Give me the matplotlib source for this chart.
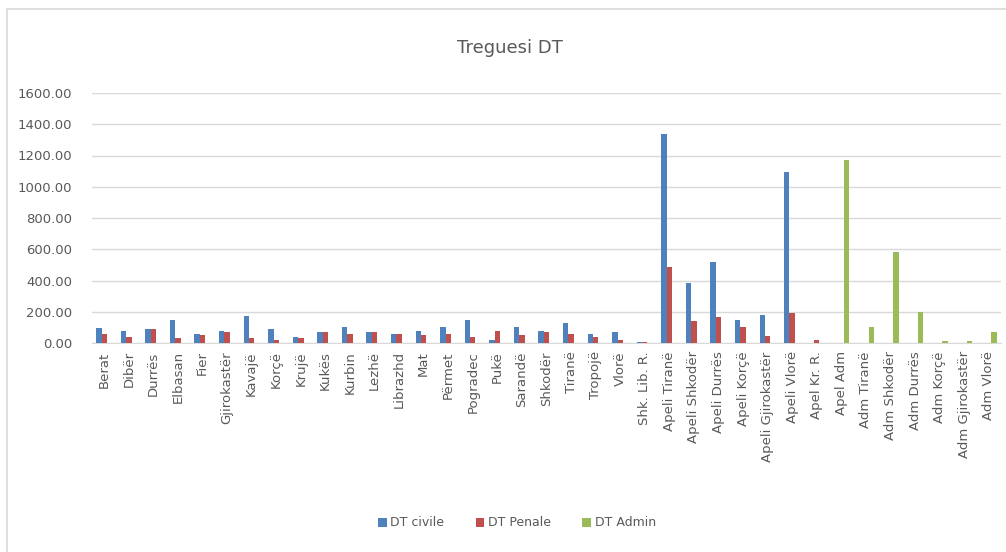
import numpy as np
import matplotlib
matplotlib.use("Agg")
import matplotlib.pyplot as plt
from matplotlib.patches import Rectangle

# categories and values
categories = ["Berat", "Dibër", "Durrës", "Elbasan", "Fier", "Gjirokastër", "Kavajë",
              "Korçë", "Krujë", "Kukës", "Kurbin", "Lezhë", "Librazhd", "Mat", "Përmet",
              "Pogradec", "Pukë", "Sarandë", "Shkodër", "Tiranë", "Tropojë", "Vlorë",
              "Shk. Lib. R.", "Apeli Tiranë", "Apeli Shkodër", "Apeli Durrës", "Apeli Korçë",
              "Apeli Gjirokastër", "Apeli Vlorë", "Apel Kr. R.", "Apel Adm", "Adm Tiranë",
              "Adm Shkodër", "Adm Durrës", "Adm Korçë", "Adm Gjirokastër", "Adm Vlorë"]

dt_civile = [95, 80, 90, 150, 55, 80, 170, 90, 40, 70, 100, 70, 60, 80, 100,
             150, 20, 100, 80, 130, 60, 70, 5, 1340, 385, 520, 150, 180, 1095, 0,
             0, 0, 0, 0, 0, 0, 0]
dt_penale = [55, 40, 90, 30, 50, 70, 30, 20, 30, 70, 55, 70, 60, 50, 60,
             40, 75, 50, 70, 60, 40, 20, 5, 485, 140, 165, 100, 45, 190, 20,
             0, 0, 0, 0, 0, 0, 0]
dt_admin = [0] * 30 + [1170, 100, 585, 200, 15, 12, 70]

series_names = ["DT civile", "DT Penale", "DT Admin"]
colors = ["#4F81BD", "#C0504D", "#9BBB59"]

fig = plt.figure(figsize=(10.06, 5.52), dpi=100)
fig.patches.append(Rectangle((7 / 1006, -0.1), 1.2, 1 - 9 / 552 + 0.1,
                             transform=fig.transFigure, fill=False,
                             edgecolor="#D9D9D9", linewidth=1.2))

ax = fig.add_axes([92 / 1006, 1 - 343 / 552, (1001 - 92) / 1006, (343 - 93) / 552])

x = np.arange(len(categories))
w = 0.22
for i, (vals, name, c) in enumerate(zip([dt_civile, dt_penale, dt_admin], series_names, colors)):
    ax.bar(x + (i - 1) * w, vals, width=w, color=c, label=name, zorder=3)

ax.set_xlim(-0.5, len(categories) - 0.5)
ax.set_ylim(0, 1600)
ax.set_yticks(np.arange(0, 1601, 200))
ax.set_yticklabels([f"{v:.2f}" for v in np.arange(0, 1601, 200)])
ax.grid(axis="y", color="#D9D9D9", linewidth=1, zorder=0)
ax.set_xticks(x)
ax.set_xticklabels(categories, rotation=90)
ax.tick_params(axis="both", length=0, colors="#595959", labelsize=9.5)
ax.tick_params(axis="y", pad=14)
ax.tick_params(axis="x", pad=6)
for s in ["top", "right", "left"]:
    ax.spines[s].set_visible(False)
ax.spines["bottom"].set_color("#D9D9D9")

fig.text(510 / 1006, 1 - 48 / 552, "Treguesi DT", ha="center", va="center",
         fontsize=13, color="#595959")

fig.legend(loc="center", bbox_to_anchor=(517 / 1006, 1 - 523 / 552), ncol=3,
           frameon=False, fontsize=9, handlelength=0.7, handleheight=0.7,
           handletextpad=0.3, columnspacing=2.5, labelcolor="#595959")

fig.savefig("out.png", dpi=100)
